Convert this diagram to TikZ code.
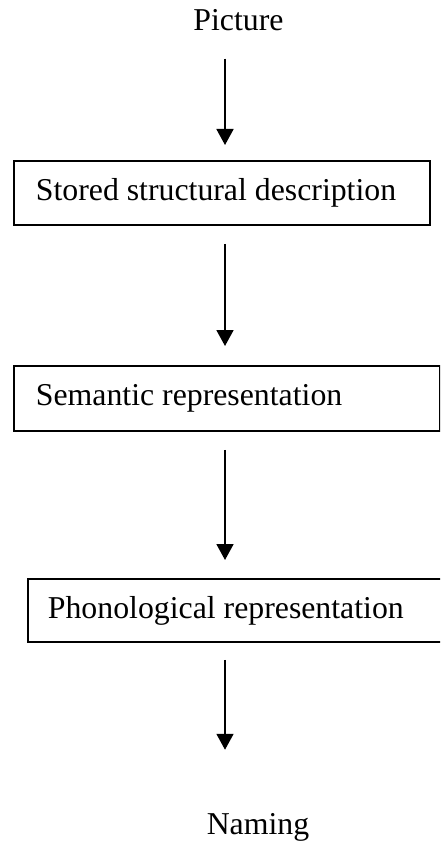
\documentclass[tikz,border=0pt]{standalone}
\usepackage{fontspec}
\setmainfont{Liberation Serif}
\usetikzlibrary{arrows.meta}
\begin{document}
\begin{tikzpicture}[x=1pt,y=-1pt,
  lbl/.style={inner sep=0pt,font=\fontsize{31.8}{38}\selectfont},
  stagebox/.style={draw,line width=1.8pt,anchor=north west,inner sep=0pt,
     font=\fontsize{31.8}{38}\selectfont},
  arr/.style={line width=1.8pt,-{Triangle[width=17pt,length=16pt]}}]
\useasboundingbox (0,0) rectangle (440,842);
\clip (0,0) rectangle (440,842);
\coordinate (ax) at (225,0);
\node[lbl,anchor=base] (pic) at (238.5,31) {Picture};
\node[stagebox,minimum width=416pt,minimum height=64pt] (b1) at (13,160)
  {\makebox[416pt][l]{\hspace*{22pt}Stored structural description}};
\node[stagebox,minimum width=426pt,minimum height=65pt] (b2) at (13,365)
  {\makebox[426pt][l]{\hspace*{22pt}Semantic representation}};
\node[stagebox,minimum width=425pt,minimum height=63pt] (b3) at (27,578)
  {\makebox[425pt][l]{\hspace*{20pt}Phonological representation}};
\node[lbl,anchor=base] (nam) at (258,834) {Naming};
\draw[arr,shorten <=27pt,shorten >=15pt] (pic.south -| ax) -- (b1.north -| ax);
\draw[arr,shorten <=18pt,shorten >=19pt] (b1.south -| ax) -- (b2.north -| ax);
\draw[arr,shorten <=18pt,shorten >=18pt] (b2.south -| ax) -- (b3.north -| ax);
\draw[arr,shorten <=17pt,shorten >=63pt] (b3.south -| ax) -- (nam.north -| ax);
\end{tikzpicture}
\end{document}
